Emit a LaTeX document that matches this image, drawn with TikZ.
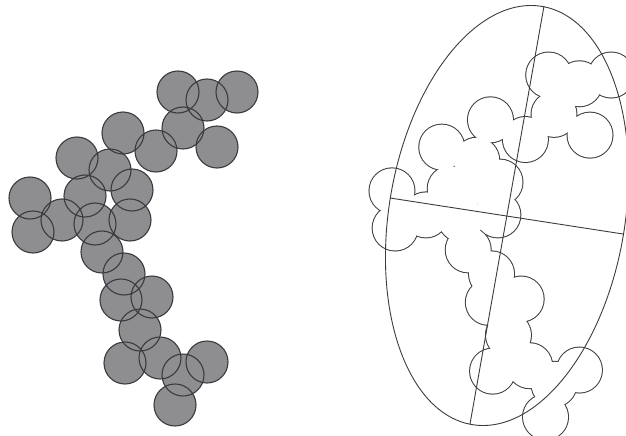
\documentclass[tikz,border=0pt]{standalone}
\definecolor{blobfill}{RGB}{142,142,145}
\definecolor{blobline}{RGB}{58,58,64}
\definecolor{rim}{RGB}{60,60,60}
% centres of the particles (picture coordinates, y downwards)
\newcommand\blobs{178/92,207/100,237/92,183/128,217/147,156/151,123/133,
  77/158,110/170,132/190,30/198,85/196,62/220,33/232,95/224,130/220,
  102/252,124/274,121/300,152/297,140/330,125/363,160/358,183/375,
  207/362,175/405}
\begin{document}
\begin{tikzpicture}[x=1pt,y=-1pt]
  \useasboundingbox (0,0) rectangle (626,436);
  % the aggregate
  \foreach \cx/\cy in \blobs
    \fill[blobfill] (\cx,\cy) circle(21);
  \foreach \cx/\cy in \blobs
    \draw[blobline, line width=1.1pt] (\cx,\cy) circle(21);
  % its outline and the equivalent ellipse
  \foreach \cx/\cy in \blobs
    \draw[rim, line width=2pt] ({1.059*\cx+360.2},{1.0927*\cy-25.5}) circle(22.5);
  \foreach \cx/\cy in \blobs
    \fill[white] ({1.059*\cx+360.2},{1.0927*\cy-25.5}) circle(22.5);
  \fill[white] ({1.059*107+360.2},{1.0927*198-25.5}) circle(14);
  \coordinate (c) at (507,215.5);
  \draw[rim, line width=0.9pt] (c) ellipse[x radius=118, y radius=212, rotate=-9.5];
  \draw[rim, line width=0.9pt] (544,6) -- (470,424);
  \draw[rim, line width=0.9pt] (390,198) -- (623,234);
\end{tikzpicture}
\end{document}
